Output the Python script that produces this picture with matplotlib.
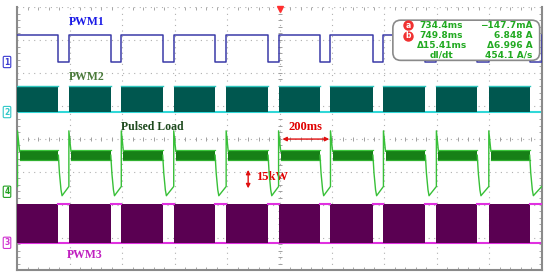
import matplotlib.pyplot as plt
import numpy as np
from matplotlib.patches import FancyBboxPatch

# time axis in divisions (0..10), vertical in divisions (0..8)
pulse_on = [0.0, 0.98, 1.98, 2.98, 3.98, 4.98, 5.97, 6.98, 7.99, 8.99]
pulse_off = [0.78, 1.78, 2.77, 3.77, 4.78, 5.77, 6.78, 7.78, 8.77, 9.77]

pwm1_hi, pwm1_lo = 7.15, 6.33
pwm2_hi, pwm2_lo = 5.60, 4.81
pwm3_hi, pwm3_lo = 2.02, 0.84

# pulsed load, one period
load_band = (3.34, 3.66)
dip_dt = [0.0, 0.02, 0.05, 0.07]
dip_y = [3.50, 2.96, 2.45, 2.27]
rise_end_y = 2.55
spike_y = 4.24
settle_y = 3.62
settle_dt = 0.04

cursor_rows = [("734.4ms", "\u2212147.7mA"), ("749.8ms", "6.848 A"),
               ("\u039415.41ms", "\u03946.996 A"), ("dI/dt", "454.1 A/s")]

fig = plt.figure(figsize=(5.5, 2.8), dpi=100)
ax = fig.add_axes([0.0318, 0.034, 0.9532, 0.941])
ax.set_xlim(0, 10)
ax.set_ylim(0, 8)

# scope graticule
ax.set_xticks(range(11))
ax.set_yticks(range(9))
ax.set_xticks(np.arange(0, 10.01, 0.2), minor=True)
ax.set_yticks(np.arange(0, 8.01, 0.2), minor=True)
ax.tick_params(which='both', direction='in', labelbottom=False, labelleft=False,
               length=0, colors='#999999')
ax.tick_params(which='minor', length=2, top=True, right=True)
ax.grid(True, which='major', color='#b0b0b0', linestyle=(0, (1, 4)), linewidth=0.8)
for s in ['left', 'bottom', 'right']:
    ax.spines[s].set_color('#8a8a8a')
    ax.spines[s].set_linewidth(1.5)
ax.spines['top'].set_visible(False)
ys = np.arange(0, 8.01, 0.2)
xs = np.arange(0, 10.01, 0.2)
ax.plot(np.full(len(ys), 5), ys, ls='none', marker='_', ms=3, mew=0.7, color='#a0a0a0')
ax.plot(xs, np.full(len(xs), 4), ls='none', marker='|', ms=3, mew=0.7, color='#a0a0a0')
ax.plot(5, 7.93, marker='v', color='#ff3030', ms=4, clip_on=False, zorder=6)

# PWM1
x1, y1 = [0.0], [pwm1_hi]
for k in range(len(pulse_off)):
    nxt = pulse_on[k + 1] if k + 1 < len(pulse_on) else 10.0
    x1 += [pulse_off[k], pulse_off[k], nxt, nxt]
    y1 += [pwm1_hi, pwm1_lo, pwm1_lo, pwm1_hi]
ax.plot(x1, y1, color='#3a3aa8', lw=1.1, zorder=3)

# PWM2 / PWM3 switching blocks
ax.axhline(pwm2_lo, color='#30d8d8', lw=1.5, zorder=2)
ax.plot([0, 10], [pwm3_lo, pwm3_lo], color='#e030e0', lw=1.5, zorder=2)
for on, off in zip(pulse_on, pulse_off):
    ax.fill_between([on, off], pwm2_lo, pwm2_hi, color='#00574f', lw=0, zorder=3)
    ax.plot([on, off], [pwm2_hi, pwm2_hi], color='#30c8c0', lw=1, zorder=4)
    ax.fill_between([on, off], pwm3_lo, pwm3_hi, color='#5a0052', lw=0, zorder=3)
# PWM3 high level in the gaps
for k in range(len(pulse_off)):
    nxt = pulse_on[k + 1] if k + 1 < len(pulse_on) else 10.0
    ax.plot([pulse_off[k], nxt], [pwm3_hi, pwm3_hi], color='#e030e0', lw=1.5, zorder=4)

# pulsed load
for k, (on, off) in enumerate(zip(pulse_on, pulse_off)):
    ax.fill_between([on + settle_dt, off], load_band[0], load_band[1],
                    color='#178017', lw=0, zorder=3)
    ax.plot([on + settle_dt, off], [load_band[1]] * 2, color='#3cc83c', lw=0.9, zorder=4)
    ax.plot([on + settle_dt, off], [load_band[0]] * 2, color='#30b030', lw=0.9, zorder=4)
    nxt = pulse_on[k + 1] if k + 1 < len(pulse_on) else 10.0
    lx = [off + d for d in dip_dt] + [nxt]
    ly = dip_y + [rise_end_y]
    if k + 1 < len(pulse_on):
        lx += [nxt, nxt + settle_dt]
        ly += [spike_y, settle_y]
    ax.plot(lx, ly, color='#38c038', lw=1.0, zorder=4)
ax.plot([0, 0, settle_dt], [rise_end_y, spike_y, settle_y], color='#38c038', lw=1.0, zorder=4)

# labels
ax.text(1.32, 7.55, "PWM1", color='#1a1ae6', fontsize=8.5, fontweight='bold',
        family='Liberation Serif', ha='center', va='center')
ax.text(1.32, 5.87, "PWM2", color='#4a7a3a', fontsize=8.5, fontweight='bold',
        family='Liberation Serif', ha='center', va='center')
ax.text(2.58, 4.36, "Pulsed Load", color='#1e4a1e', fontsize=8.5, fontweight='bold',
        family='Liberation Serif', ha='center', va='center')
ax.text(1.28, 0.47, "PWM3", color='#c020c0', fontsize=8.5, fontweight='bold',
        family='Liberation Serif', ha='center', va='center')
ax.text(5.50, 4.36, "200ms", color='#e00000', fontsize=9, fontweight='bold',
        family='Liberation Serif', ha='center', va='center')
ax.annotate("", xy=(5.0, 3.99), xytext=(6.0, 3.99),
            arrowprops=dict(arrowstyle='<|-|>', color='#e01010', lw=1, mutation_scale=6), zorder=6)
ax.text(4.55, 2.84, "15kW", color='#e00000', fontsize=9, fontweight='bold',
        family='Liberation Serif', ha='left', va='center')
ax.annotate("", xy=(4.40, 3.14), xytext=(4.40, 2.41),
            arrowprops=dict(arrowstyle='<|-|>', color='#e01010', lw=1, mutation_scale=6), zorder=6)

# channel markers
for lab, yv, col in [("1", pwm1_lo, '#3a3ad0'), ("2", pwm2_lo, '#30c8c8'),
                     ("4", 2.39, '#20a020'), ("3", pwm3_lo, '#d030d0')]:
    ax.text(-0.2, yv, lab, color=col, fontsize=5.5, fontweight='bold', ha='center',
            va='center', clip_on=False,
            bbox=dict(boxstyle='round,pad=0.15', fc='white', ec=col, lw=0.8))

# cursor readout box
box = FancyBboxPatch((7.16, 6.38), 2.8, 1.22, boxstyle='round,pad=0,rounding_size=0.15',
                     fc='white', ec='#8a8a8a', lw=1.2, zorder=7, mutation_aspect=1.6)
ax.add_patch(box)
row_y = [7.45, 7.12, 6.83, 6.54]
for (mid, right), yv in zip(cursor_rows, row_y):
    ax.text(8.09, yv, mid, color='#22aa22', fontsize=6.5, fontweight='bold',
            ha='center', va='center', zorder=8)
    ax.text(9.83, yv, right, color='#22aa22', fontsize=6.5, fontweight='bold',
            ha='right', va='center', zorder=8)
for lab, yv in zip(["a", "b"], row_y[:2]):
    ax.plot(7.45, yv, marker='o', ms=6.5, color='#f03030', mec='#f03030', zorder=8)
    ax.text(7.45, yv, lab, color='white', fontsize=5.5, fontweight='bold',
            ha='center', va='center', zorder=9)

fig.savefig("out.png", dpi=100)
